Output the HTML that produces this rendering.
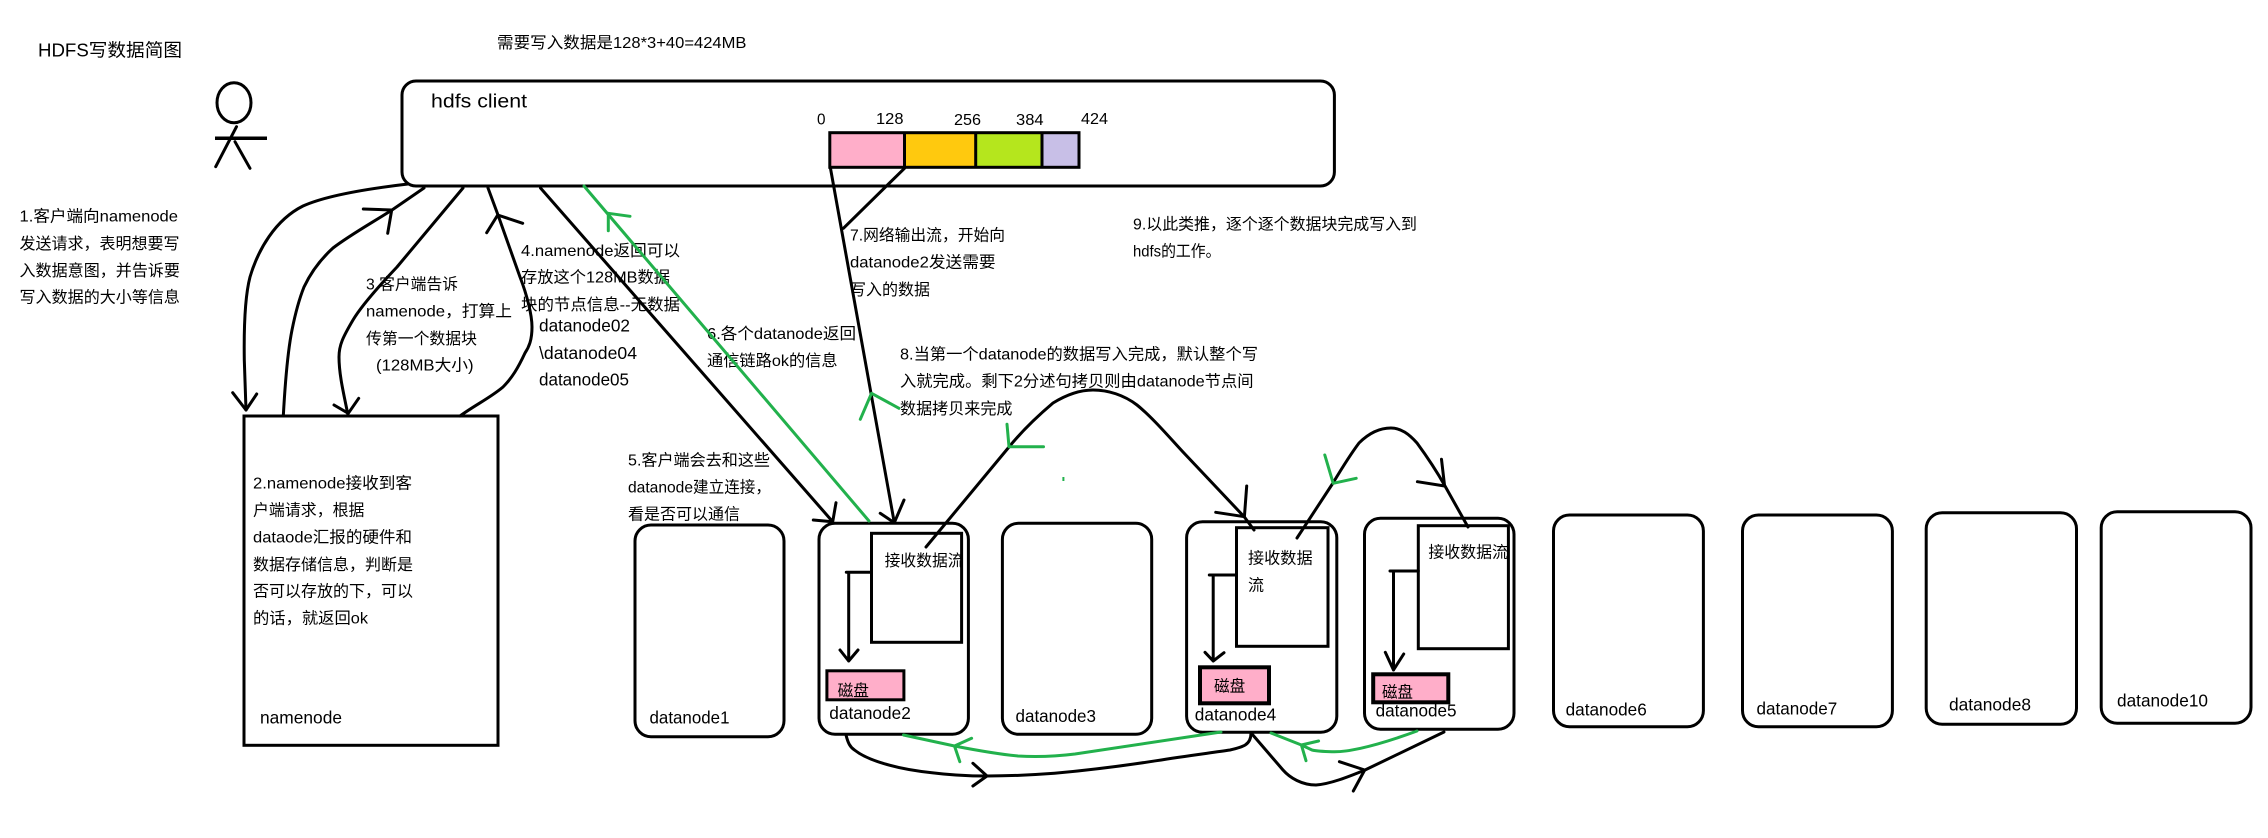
<!DOCTYPE html>
<html lang="zh">
<head>
<meta charset="utf-8">
<title>HDFS写数据简图</title>
<style>
html,body{margin:0;padding:0;background:#fff;}
svg{display:block;}
text{font-family:"Liberation Sans","Noto Sans CJK SC",sans-serif;font-size:16px;fill:#000;}
text.l{font-size:17.5px;}
.k{fill:none;stroke:#000;stroke-width:3;stroke-linejoin:round;stroke-linecap:round;}
.g{fill:none;stroke:#22b14c;stroke-width:3;stroke-linejoin:round;stroke-linecap:round;}
</style>
</head>
<body>
<svg xmlns="http://www.w3.org/2000/svg" width="2268" height="838" viewBox="0 0 2268 838">
<rect width="2268" height="838" fill="#fff"/>

<!-- stick figure -->
<ellipse class="k" cx="234" cy="102.7" rx="17" ry="20"/>
<path class="k" d="M236.5 126.7L215.7 166.7M235 141.7L250 168.3"/>
<path class="k" style="stroke-linecap:butt;stroke-width:3.5" d="M215 138.3H267"/>

<!-- client -->
<rect class="k" x="402" y="81" width="932.4" height="105" rx="14"/>
<rect x="829.8" y="132.7" width="74.7" height="34.6" fill="#ffaec9"/>
<rect x="904.5" y="132.7" width="71.2" height="34.6" fill="#ffc90e"/>
<rect x="975.7" y="132.7" width="66.3" height="34.6" fill="#b5e61d"/>
<rect x="1042" y="132.7" width="37" height="34.6" fill="#c8bfe7"/>
<rect class="k" x="829.8" y="132.7" width="249.2" height="34.6" style="stroke-linejoin:miter"/>
<path class="k" style="stroke-linecap:butt" d="M904.5 132.7V167.3M975.7 132.7V167.3M1042 132.7V167.3"/>

<!-- namenode -->
<rect class="k" x="244" y="416" width="254" height="329.3" style="stroke-linejoin:miter"/>

<!-- datanodes -->
<rect class="k" x="635" y="525" width="149" height="211.7" rx="16"/>
<rect class="k" x="819" y="523.3" width="149.4" height="211" rx="16"/>
<rect class="k" x="1002.4" y="523.3" width="149.3" height="211" rx="16"/>
<rect class="k" x="1186.6" y="521.7" width="150.2" height="210.6" rx="16"/>
<rect class="k" x="1364.5" y="518.3" width="149.5" height="211" rx="16"/>
<rect class="k" x="1553.5" y="515" width="149.9" height="211.7" rx="16"/>
<rect class="k" x="1742.5" y="515" width="149.9" height="211.7" rx="16"/>
<rect class="k" x="1926.2" y="512.7" width="150.3" height="211.6" rx="16"/>
<rect class="k" x="2101.2" y="511.7" width="149.8" height="211.6" rx="16"/>

<!-- inner boxes -->
<rect class="k" x="871.5" y="533.3" width="90.1" height="109" style="stroke-linejoin:miter"/>
<rect class="k" x="1236.5" y="527.7" width="91.5" height="118.6" style="stroke-linejoin:miter"/>
<rect class="k" x="1418.3" y="525.7" width="90.1" height="123" style="stroke-linejoin:miter"/>

<!-- disks -->
<rect x="826.9" y="670.8" width="77" height="29" fill="#ffaec9" stroke="#000" stroke-width="3"/>
<rect x="1200" y="667.3" width="69" height="36" fill="#ffaec9" stroke="#000" stroke-width="4"/>
<rect x="1373.2" y="674.3" width="75.1" height="28" fill="#ffaec9" stroke="#000" stroke-width="4"/>

<!-- inner arrows -->
<path class="k" d="M846.3 572.3H871.5M848.7 572.3V661M840 650L848.7 661L858 650"/>
<path class="k" d="M1209.3 575H1236.5M1213.2 575V661M1205 652.3L1213.2 661L1224 652.7"/>
<path class="k" d="M1390 571H1418.3M1393.5 571V670M1385.3 652.3L1393.5 670L1403.7 654"/>

<!-- text -->
<text x="38" y="56.7" textLength="144" lengthAdjust="spacingAndGlyphs" style="font-size:18px">HDFS写数据简图</text>
<text x="497" y="48" textLength="249.5" lengthAdjust="spacingAndGlyphs">需要写入数据是128*3+40=424MB</text>
<text x="431" y="107.7" textLength="96" lengthAdjust="spacingAndGlyphs" style="font-size:19px">hdfs client</text>

<text x="817" y="124.3" textLength="8.5" lengthAdjust="spacingAndGlyphs">0</text>
<text x="876" y="124" textLength="27.5" lengthAdjust="spacingAndGlyphs">128</text>
<text x="954" y="125" textLength="27" lengthAdjust="spacingAndGlyphs">256</text>
<text x="1016" y="125" textLength="27.6" lengthAdjust="spacingAndGlyphs">384</text>
<text x="1081" y="124" textLength="27" lengthAdjust="spacingAndGlyphs">424</text>

<text x="19.5" y="221.7" textLength="158.5" lengthAdjust="spacingAndGlyphs">1.客户端向namenode</text>
<text x="19.5" y="249" textLength="160" lengthAdjust="spacingAndGlyphs">发送请求，表明想要写</text>
<text x="19.5" y="276" textLength="160.5" lengthAdjust="spacingAndGlyphs">入数据意图，并告诉要</text>
<text x="19.5" y="302.7" textLength="160.5" lengthAdjust="spacingAndGlyphs">写入数据的大小等信息</text>

<text x="366" y="289.3" textLength="92" lengthAdjust="spacingAndGlyphs">3.客户端告诉</text>
<text x="366" y="316.7" textLength="146" lengthAdjust="spacingAndGlyphs">namenode，打算上</text>
<text x="366" y="344" textLength="111" lengthAdjust="spacingAndGlyphs">传第一个数据块</text>
<text x="376" y="370.7" textLength="97.6" lengthAdjust="spacingAndGlyphs">(128MB大小)</text>

<text x="521" y="256" textLength="159" lengthAdjust="spacingAndGlyphs">4.namenode返回可以</text>
<text x="521" y="282.7" textLength="149" lengthAdjust="spacingAndGlyphs">存放这个128MB数据</text>
<text x="521" y="310" textLength="159" lengthAdjust="spacingAndGlyphs">块的节点信息--无数据</text>
<text class="l" x="539" y="331.7" textLength="91" lengthAdjust="spacingAndGlyphs">datanode02</text>
<text class="l" x="539" y="359" textLength="98" lengthAdjust="spacingAndGlyphs">\datanode04</text>
<text class="l" x="539" y="385.7" textLength="90" lengthAdjust="spacingAndGlyphs">datanode05</text>

<text x="707" y="339" textLength="149" lengthAdjust="spacingAndGlyphs">6.各个datanode返回</text>
<text x="707" y="366" textLength="130.6" lengthAdjust="spacingAndGlyphs">通信链路ok的信息</text>

<text x="850" y="240.7" textLength="155" lengthAdjust="spacingAndGlyphs">7.网络输出流，开始向</text>
<text x="850" y="267.7" textLength="145.6" lengthAdjust="spacingAndGlyphs">datanode2发送需要</text>
<text x="850" y="295" textLength="80" lengthAdjust="spacingAndGlyphs">写入的数据</text>

<text x="900" y="359.3" textLength="358" lengthAdjust="spacingAndGlyphs">8.当第一个datanode的数据写入完成，默认整个写</text>
<text x="900" y="386.7" textLength="353.5" lengthAdjust="spacingAndGlyphs">入就完成。剩下2分述句拷贝则由datanode节点间</text>
<text x="900" y="414" textLength="112.5" lengthAdjust="spacingAndGlyphs">数据拷贝来完成</text>

<text x="1133" y="229.3" textLength="284" lengthAdjust="spacingAndGlyphs">9.以此类推，逐个逐个数据块完成写入到</text>
<text x="1133" y="256.7" textLength="87.5" lengthAdjust="spacingAndGlyphs">hdfs的工作。</text>

<text x="253" y="488.3" textLength="159" lengthAdjust="spacingAndGlyphs">2.namenode接收到客</text>
<text x="253" y="515.7" textLength="111.5" lengthAdjust="spacingAndGlyphs">户端请求，根据</text>
<text x="253" y="542.7" textLength="159" lengthAdjust="spacingAndGlyphs">dataode汇报的硬件和</text>
<text x="253" y="570" textLength="160" lengthAdjust="spacingAndGlyphs">数据存储信息，判断是</text>
<text x="253" y="596.7" textLength="160" lengthAdjust="spacingAndGlyphs">否可以存放的下，可以</text>
<text x="253" y="623.3" textLength="115" lengthAdjust="spacingAndGlyphs">的话，就返回ok</text>
<text class="l" x="260" y="723.3" textLength="82" lengthAdjust="spacingAndGlyphs">namenode</text>

<text x="628" y="465.7" textLength="142" lengthAdjust="spacingAndGlyphs">5.客户端会去和这些</text>
<text x="628" y="492.7" textLength="143" lengthAdjust="spacingAndGlyphs">datanode建立连接，</text>
<text x="628" y="519.3" textLength="112" lengthAdjust="spacingAndGlyphs">看是否可以通信</text>

<text class="l" x="649.5" y="723.3" textLength="80" lengthAdjust="spacingAndGlyphs">datanode1</text>
<text class="l" x="829.3" y="719" textLength="81.5" lengthAdjust="spacingAndGlyphs">datanode2</text>
<text class="l" x="1015.5" y="722" textLength="80.5" lengthAdjust="spacingAndGlyphs">datanode3</text>
<text class="l" x="1194.8" y="720.7" textLength="81.4" lengthAdjust="spacingAndGlyphs">datanode4</text>
<text class="l" x="1375.6" y="716.7" textLength="81" lengthAdjust="spacingAndGlyphs">datanode5</text>
<text class="l" x="1565.6" y="715.3" textLength="81.2" lengthAdjust="spacingAndGlyphs">datanode6</text>
<text class="l" x="1756.5" y="714.7" textLength="80.8" lengthAdjust="spacingAndGlyphs">datanode7</text>
<text class="l" x="1949" y="710.7" textLength="82" lengthAdjust="spacingAndGlyphs">datanode8</text>
<text class="l" x="2117" y="706.7" textLength="91" lengthAdjust="spacingAndGlyphs">datanode10</text>

<text x="884.6" y="566" textLength="79" lengthAdjust="spacingAndGlyphs">接收数据流</text>
<text x="1248" y="563.3" textLength="64.6" lengthAdjust="spacingAndGlyphs">接收数据</text>
<text x="1248" y="590.7" textLength="16" lengthAdjust="spacingAndGlyphs">流</text>
<text x="1428.4" y="557.3" textLength="79.6" lengthAdjust="spacingAndGlyphs">接收数据流</text>
<text x="837.6" y="696" textLength="31.4" lengthAdjust="spacingAndGlyphs">磁盘</text>
<text x="1214" y="691.7" textLength="31.2" lengthAdjust="spacingAndGlyphs">磁盘</text>
<text x="1382" y="697.3" textLength="31" lengthAdjust="spacingAndGlyphs">磁盘</text>

<!-- black connectors -->
<path class="k" d="M408 184C365 189 325 196 303 206C275 220 258 250 250 277C244 300 244 340 244.3 360L246 410"/>
<path class="k" d="M232.7 392.7L246 410L256.7 394"/>
<path class="k" d="M283.3 416C285 385 288 350 292 330C296 310 300 297 304 287C312 270 322 258 333 248C350 235 370 224 392 210L424 188"/>
<path class="k" d="M363.3 209L391.7 210L387.7 233.3"/>
<path class="k" d="M463 188L397 267C380 285 362 305 353 320C343 337 339 345 339 357C339 375 344 395 348 415"/>
<path class="k" d="M334 405L348.3 413.3L358.7 398.3"/>
<path class="k" d="M488 188L498 215L520 277C527 295 532 315 532 327C532 340 529 347 525 353C518 368 512 378 503 387C490 398 475 405 460 416"/>
<path class="k" d="M486.7 232.7L497.7 215L522.7 223.3"/>
<path class="k" d="M540.5 188L832.7 521.7M813.3 520L832.7 521.7L836 502.7"/>
<path class="k" d="M830.3 167.3L894.3 522.7M880.2 513.3L894.3 522.7L904 500"/>
<path class="k" d="M904.5 168.3L843.4 228.3"/>
<path class="k" d="M926 547L1009 447C1022 431 1040 414 1053 403C1066 395 1080 390 1093 390C1108 390 1124 395 1137 405C1152 417 1170 438 1183 452L1244.4 517L1254 530"/>
<path class="k" d="M1215.7 512.3L1244.4 516.7L1246.7 486"/>
<path class="k" d="M1297 538L1333 483C1342 468 1350 455 1359 443C1369 433 1380 428 1391 428C1401 428 1409 434 1417 443C1428 458 1436 470 1445 486L1468 527"/>
<path class="k" d="M1417.4 481.7L1444.6 486L1441.5 459.3"/>
<path class="k" d="M846 735C848 743 850 747 854.5 750C862 756 872 760 883 763.3C898 768 915 771 932 772.7C950 775 968 776 987 776C1010 776 1032 775 1054.5 773.3C1090 770 1122 766 1156.5 760.7C1185 756 1210 753 1230 750C1243 747 1251 745 1251 733"/>
<path class="k" d="M972.9 763.3L987 776L972.9 786"/>
<path class="k" d="M1252 734L1283 770C1290 778 1302 785 1316 785C1330 784 1348 777 1365 770L1444 732"/>
<path class="k" d="M1339.4 761.7L1364.7 770L1353.3 791"/>

<!-- green connectors -->
<path class="g" d="M584 186L869 521"/>
<path class="g" d="M630 216.3L608.3 213.3L608.3 230.7"/>
<path class="g" d="M899 408.3L871.5 393.3L860.3 419.3"/>
<path class="g" d="M1007 424.3L1009 446.7L1043.5 446.7"/>
<rect x="1062.4" y="477" width="2" height="4" fill="#22b14c"/>
<path class="g" d="M1324.8 455L1333.2 483.3L1356.2 478.3"/>
<path class="g" d="M1221 732L1075 754C1055 756.5 1035 757 1018 756C997 754 975 750 954.5 746L903.5 735"/>
<path class="g" d="M971.6 738.3L954.5 746L959.8 761.7"/>
<path class="g" d="M1417 731C1398 738 1380 744 1360.6 748.3C1350 750.5 1342 752 1332 751.7C1322 751.5 1316 751 1312 750L1301.4 745L1271 733"/>
<path class="g" d="M1318.6 741L1301.4 745L1306 760.7"/>
</svg>
</body>
</html>
